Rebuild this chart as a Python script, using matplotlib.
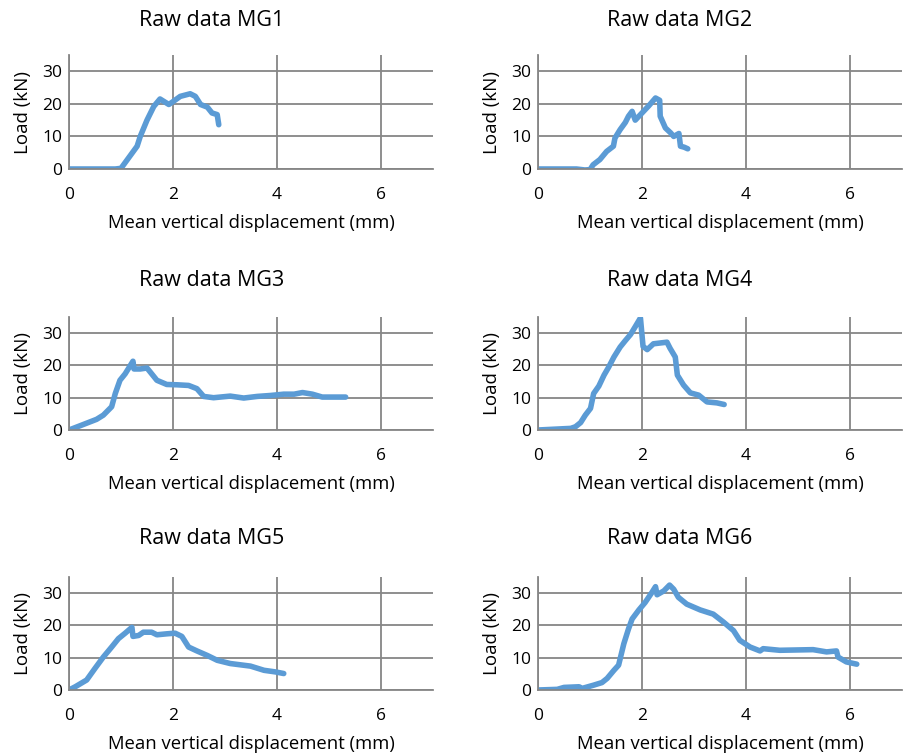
import matplotlib
matplotlib.use("Agg")
import matplotlib.pyplot as plt

plt.rcParams['font.family'] = ['Open Sans', 'DejaVu Sans']

# valeurs (déplacement mm, charge kN)
mg1_x = [0, 0.05, 0.1, 0.2, 0.3, 0.6, 0.89, 1.0, 1.05, 1.31, 1.37, 1.5, 1.63, 1.75, 1.92, 2.01, 2.14, 2.33, 2.43, 2.53, 2.66, 2.75, 2.85, 2.88]
mg1_y = [0, 0, 0, 0, 0, 0, 0, 0.2, 1.3, 7, 10, 15, 19.2, 21.5, 19.8, 20.8, 22.3, 23.1, 22.3, 19.8, 19, 17.2, 16.7, 13.6]

mg2_x = [0, 0.4, 0.74, 0.9, 1.0, 1.06, 1.19, 1.32, 1.45, 1.48, 1.58, 1.68, 1.74, 1.81, 1.87, 2.0, 2.13, 2.26, 2.34, 2.35, 2.45, 2.55, 2.61, 2.71, 2.74, 2.81, 2.88]
mg2_y = [0, 0, 0, -0.3, -0.2, 1.3, 2.9, 5.4, 7, 9.5, 12.1, 14.3, 16.2, 17.7, 15, 17.2, 19.4, 21.8, 21.1, 16.2, 12.6, 11.1, 10, 10.9, 7, 6.7, 6.2]

mg3_x = [0, 0.21, 0.53, 0.66, 0.82, 0.89, 0.98, 1.08, 1.18, 1.23, 1.25, 1.37, 1.5, 1.59, 1.69, 1.88, 2.08, 2.3, 2.46, 2.59, 2.78, 3.1, 3.36, 3.62, 3.88, 4.13, 4.33, 4.49, 4.68, 4.87, 5.1, 5.32]
mg3_y = [0, 1.3, 3.3, 4.6, 7.2, 11.3, 15.4, 17.4, 20, 21.3, 18.9, 18.9, 19.2, 17.4, 15.4, 14.1, 14, 13.8, 12.8, 10.4, 10, 10.5, 9.9, 10.4, 10.7, 11.1, 11.1, 11.6, 11.1, 10.2, 10.2, 10.2]

mg4_x = [0, 0.63, 0.72, 0.82, 0.91, 1.01, 1.07, 1.17, 1.27, 1.36, 1.46, 1.58, 1.68, 1.78, 1.87, 1.97, 2.02, 2.1, 2.22, 2.48, 2.54, 2.64, 2.68, 2.8, 2.93, 3.09, 3.25, 3.44, 3.58]
mg4_y = [0, 0.5, 1, 2.3, 4.6, 6.7, 11.3, 13.6, 17, 19.5, 22.6, 25.7, 27.7, 29.6, 32, 34.7, 25.9, 24.9, 26.7, 27.2, 25.3, 22.6, 17, 13.9, 11.5, 10.8, 8.7, 8.4, 7.9]

mg5_x = [0, 0.12, 0.34, 0.5, 0.66, 0.82, 0.95, 1.08, 1.21, 1.23, 1.34, 1.43, 1.59, 1.69, 1.88, 2.04, 2.17, 2.3, 2.46, 2.66, 2.85, 3.1, 3.49, 3.75, 3.97, 4.13]
mg5_y = [0, 1, 3.1, 6.7, 10.2, 13.3, 15.9, 17.6, 19.4, 16.6, 16.9, 17.9, 17.9, 17.1, 17.4, 17.6, 16.6, 13.3, 12.1, 10.7, 9.2, 8.2, 7.4, 6.1, 5.6, 5.1]

mg6_x = [0, 0.37, 0.5, 0.79, 0.85, 1.07, 1.23, 1.33, 1.46, 1.55, 1.65, 1.74, 1.81, 1.94, 2.06, 2.19, 2.26, 2.29, 2.42, 2.53, 2.61, 2.7, 2.86, 3.12, 3.37, 3.57, 3.76, 3.88, 4.08, 4.27, 4.33, 4.65, 5.29, 5.55, 5.74, 5.77, 5.93, 6.13]
mg6_y = [0, 0.2, 0.8, 1, 0.5, 1.5, 2.3, 3.6, 6.1, 7.7, 14.3, 18.9, 22, 24.8, 27.1, 30.2, 32, 29.5, 30.7, 32.5, 31.2, 28.7, 26.6, 24.8, 23.5, 21, 18.4, 15.4, 13.3, 12.1, 12.8, 12.3, 12.5, 11.8, 12.1, 10.2, 8.7, 8]

noms = ["MG1", "MG2", "MG3", "MG4", "MG5", "MG6"]
series = [(mg1_x, mg1_y), (mg2_x, mg2_y), (mg3_x, mg3_y),
          (mg4_x, mg4_y), (mg5_x, mg5_y), (mg6_x, mg6_y)]

W, H = 904, 754
fig = plt.figure(figsize=(W / 100, H / 100), dpi=100)

# positions en pixels (gauche, haut de l'axe, bas de l'axe)
lefts = [69, 538]
rows = [(55, 169), (317, 430), (577, 690)]
title_y = [20, 280, 539]
title_x = [212, 680]
largeur = 364

gris = "#868686"
bleu = "#5B9BD5"

for i, (nom, (xs, ys)) in enumerate(zip(noms, series)):
    r, c = divmod(i, 2)
    top, bot = rows[r]
    ax = fig.add_axes([lefts[c] / W, 1 - bot / H, largeur / W, (bot - top) / H])
    ax.plot(xs, ys, color=bleu, lw=4, solid_capstyle="round", solid_joinstyle="round")
    ax.set_xlim(0, 7)
    ax.set_ylim(0, 35)
    ax.set_xticks([0, 2, 4, 6])
    ax.set_yticks([0, 10, 20, 30])
    ax.grid(True, color=gris, lw=1.3)
    ax.set_axisbelow(True)
    for s in ["top", "right"]:
        ax.spines[s].set_visible(False)
    for s in ["left", "bottom"]:
        ax.spines[s].set_color(gris)
        ax.spines[s].set_linewidth(1.3)
    ax.tick_params(length=0, labelsize=12.5, colors="#000000")
    ax.tick_params(axis="x", pad=13)
    ax.tick_params(axis="y", pad=5)
    ax.set_xlabel("Mean vertical displacement (mm)", fontsize=13.3, labelpad=8)
    ax.set_ylabel("Load (kN)", fontsize=13.5, labelpad=7)
    fig.text(title_x[c] / W, 1 - title_y[r] / H, "Raw data " + nom,
             fontsize=15.5, ha="center", va="center")

fig.savefig("out.png", dpi=100)
